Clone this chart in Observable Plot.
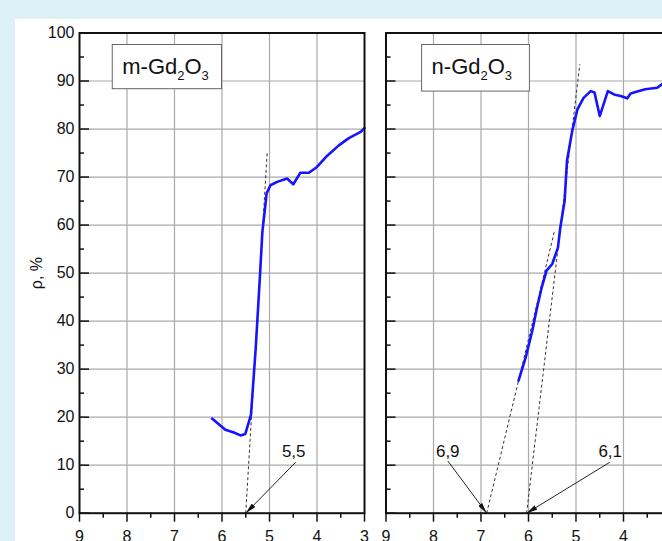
<!DOCTYPE html>
<html><head><meta charset="utf-8">
<script src="https://cdn.jsdelivr.net/npm/d3@7"></script>
<script src="https://cdn.jsdelivr.net/npm/@observablehq/plot@0.6"></script>
<style>
html,body{margin:0;padding:0;width:662px;height:541px;overflow:hidden;background:#dcf2f7;}
#paper{position:absolute;left:15px;top:19px;width:720px;height:600px;background:#fff;}
#chart{position:absolute;left:0;top:0;}
</style></head><body>
<div id="paper"></div><div id="chart"></div>
<script>
// ---- data ----
const panels = ["m", "n"];
const phaseLabels = ["m-Gd2O3", "n-Gd2O3"];

// m-Gd2O3 curve
const mX = [6.21, 5.93, 5.75, 5.61, 5.51, 5.39, 5.29, 5.20, 5.15, 5.06, 4.98, 4.84, 4.63, 4.50, 4.35, 4.17, 4.00, 3.79, 3.54, 3.33, 3.08, 3.00];
const mY = [19.7, 17.4, 16.8, 16.2, 16.5, 20.5, 34.4, 49.6, 58.6, 66.6, 68.3, 69.0, 69.7, 68.5, 70.9, 70.9, 72.1, 74.4, 76.6, 78.1, 79.4, 80.2];

// n-Gd2O3 curve
const nX = [6.21, 6.06, 5.92, 5.82, 5.73, 5.62, 5.50, 5.38, 5.33, 5.24, 5.19, 5.08, 4.97, 4.84, 4.69, 4.61, 4.50, 4.33, 4.20, 4.06, 3.92, 3.85, 3.71, 3.54, 3.29, 3.18, 3.10];
const nY = [27.6, 32.4, 38.0, 42.8, 46.7, 50.5, 51.9, 55.3, 59.5, 65.0, 73.4, 79.6, 84.1, 86.5, 87.9, 87.6, 82.7, 87.9, 87.2, 86.9, 86.4, 87.4, 87.8, 88.3, 88.6, 89.4, 89.8];

// tick values
const xMajor = [9, 8, 7, 6, 5, 4, 3];
const xMinor = [8.5, 7.5, 6.5, 5.5, 4.5, 3.5];
const yMajor = [0, 10, 20, 30, 40, 50, 60, 70, 80, 90, 100];
const yMinor = [5, 15, 25, 35, 45, 55, 65, 75, 85, 95];

// dashed tangent lines
const tangentPanel = ["m", "n", "n"];
const tangentX1 = [5.50, 6.88, 6.04];
const tangentY1 = [0, 0, 0];
const tangentX2 = [5.05, 5.45, 4.92];
const tangentY2 = [75.0, 58.9, 93.5];

// onset annotations
const onsetPanel = ["m", "n", "n"];
const onsetText = ["5,5", "6,9", "6,1"];
const onsetLabelX = [4.49, 7.70, 4.28];
const onsetLabelY = [12.8, 12.8, 12.8];
const arrowFromX = [4.45, 7.70, 4.29];
const arrowFromY = [10.6, 10.9, 10.6];
const arrowToX = [5.50, 6.88, 6.04];
const arrowToY = [0, 0, 0];

// phase label boxes
const boxX1 = [8.30, 8.24];
const boxX2 = [6.00, 5.97];
const boxY1 = [97.5, 97.5];
const boxY2 = [88.3, 87.8];
const boxTextY = [92.9, 92.9];

// ---- tables ----
const rows = [
  ...mX.map((x, i) => ({panel: "m", x, y: mY[i]})),
  ...nX.map((x, i) => ({panel: "n", x, y: nY[i]}))
];
const tangents = tangentPanel.map((p, i) => ({panel: p, x1: tangentX1[i], y1: tangentY1[i], x2: tangentX2[i], y2: tangentY2[i]}));
const onsets = onsetPanel.map((p, i) => ({panel: p, label: onsetText[i], lx: onsetLabelX[i], ly: onsetLabelY[i], x1: arrowFromX[i], y1: arrowFromY[i], x2: arrowToX[i], y2: arrowToY[i]}));
const boxes = panels.map((p, i) => ({panel: p, label: phaseLabels[i], x1: boxX1[i], x2: boxX2[i], y1: boxY1[i], y2: boxY2[i], ty: boxTextY[i]}));

// ---- layout ----
const W = 690, H = 560;
const mL = 79, mT = 32.5, mB = H - 512.7, mR = W - 670.5;
const padInner = 0.0701;
const bandW = (W - mL - mR) / (2 - padInner) * (1 - padInner);

const font = "'Liberation Sans', Arial, Helvetica, sans-serif";
const ink = "#111";

const chart = Plot.plot({
  width: W, height: H,
  marginLeft: mL, marginRight: mR, marginTop: mT, marginBottom: mB,
  style: {background: "none", maxWidth: "none", fontFamily: font, fontSize: "16px", color: ink, overflow: "hidden"},
  fx: {domain: panels, paddingInner: padInner, paddingOuter: 0, axis: null, label: null, round: false},
  x: {domain: [9, 3], axis: null, label: null},
  y: {domain: [0, 100], axis: null, label: null},
  marks: [
    Plot.gridX(xMajor.slice(1, -1), {stroke: "#a9a9a9", strokeOpacity: 1, strokeWidth: 1.2}),
    Plot.gridY(yMajor.slice(1, -1), {stroke: "#a9a9a9", strokeOpacity: 1, strokeWidth: 1.2}),
    Plot.rect(boxes, {x1: "x1", x2: "x2", y1: "y1", y2: "y2", fx: "panel", fill: "white", stroke: "#666", strokeWidth: 1}),
    Plot.text(boxes, {x: "x1", y: "ty", text: "label", fx: "panel", textAnchor: "start", dx: 9.5, fontSize: 22, fill: ink, className: "phaselabel"}),
    Plot.link(tangents, {x1: "x1", y1: "y1", x2: "x2", y2: "y2", fx: "panel", stroke: "#333", strokeWidth: 1, strokeDasharray: "3,2.5"}),
    Plot.line(rows, {x: "x", y: "y", fx: "panel", stroke: "#1414ff", strokeWidth: 2.6, strokeLinejoin: "round"}),
    Plot.link(onsets, {x1: "x1", y1: "y1", x2: "x2", y2: "y2", fx: "panel", stroke: "#222", strokeWidth: 1, className: "arrowlink"}),
    Plot.text(onsets, {x: "lx", y: "ly", text: "label", fx: "panel", fontSize: 17, fill: ink}),
    Plot.tickY(yMajor, {y: d => d, insetRight: bandW - 10, stroke: ink, strokeWidth: 1.5}),
    Plot.tickY(yMinor, {y: d => d, insetRight: bandW - 5, stroke: ink, strokeWidth: 1.5}),
    Plot.frame({stroke: ink, strokeWidth: 2}),
    Plot.axisX(xMajor, {tickSize: 9, tickPadding: 8, strokeWidth: 1.5, stroke: ink, fill: ink, label: null, tickFormat: d => String(d), fontSize: 16}),
    Plot.axisX(xMinor, {tickSize: 5, strokeWidth: 1.5, stroke: ink, label: null, tickFormat: () => ""}),
    Plot.axisY(yMajor, {tickSize: 0, tickPadding: 5, label: null, fill: ink, fontSize: 16}),
    Plot.text(["ρ, %"], {x: 9, y: 50, fx: () => "m", dx: -43, rotate: -90, text: d => d, fontSize: 16, fill: ink})
  ]
});
document.getElementById("chart").appendChild(chart);

// ---- finishing: filled arrowheads, chemical subscripts ----
const svg = d3.select(chart.tagName.toLowerCase() === "svg" ? chart : chart.querySelector("svg"));
const defs = svg.insert("defs", ":first-child");
defs.append("marker")
  .attr("id", "ahead").attr("viewBox", "0 0 11 5").attr("refX", 11).attr("refY", 2.5)
  .attr("markerWidth", 11).attr("markerHeight", 5).attr("markerUnits", "userSpaceOnUse").attr("orient", "auto")
  .append("path").attr("d", "M0,0L11,2.5L0,5Z").attr("fill", "#111").attr("stroke", "none");
let arrowPaths = svg.selectAll(".arrowlink path");
if (arrowPaths.empty()) {
  arrowPaths = svg.selectAll('g[aria-label="link"]').filter(function () { return !this.getAttribute("stroke-dasharray"); }).selectAll("path");
}
arrowPaths.attr("marker-end", "url(#ahead)");

svg.selectAll("text").filter(function () { return phaseLabels.includes(this.textContent); }).each(function () {
  const el = d3.select(this);
  const s = this.textContent;
  el.text(null);
  let prevSub = false;
  for (const p of s.match(/\d+|\D+/g)) {
    const isSub = /^\d+$/.test(p);
    const ts = el.append("tspan").text(p);
    if (isSub) ts.attr("font-size", 13).attr("dy", prevSub ? 0 : 6);
    else if (prevSub) ts.attr("dy", -6);
    prevSub = isSub;
  }
});
</script>
</body></html>
